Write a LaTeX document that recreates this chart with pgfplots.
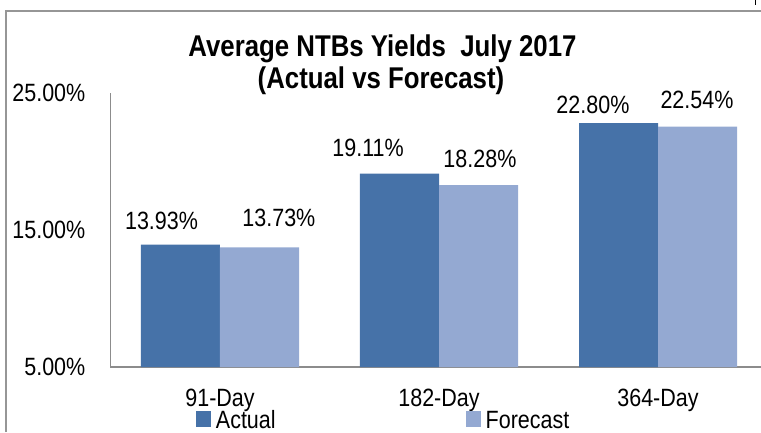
\documentclass[border=0pt]{standalone}
\usepackage{pgfplots}
\pgfplotsset{compat=1.18}
\usepackage{fontspec}
\setmainfont{Liberation Sans}[FakeStretch=0.86]
\definecolor{actualc}{RGB}{70,114,168}
\definecolor{forecastc}{RGB}{148,169,210}
\definecolor{axgray}{RGB}{140,140,140}
\definecolor{framegray}{RGB}{150,150,150}
\begin{document}
\begin{tikzpicture}[x=1pt,y=1pt,font=\fontsize{25}{30}\selectfont]
\useasboundingbox (0,0) rectangle (761,432);
\begin{scope}
\clip (0,0) rectangle (761,432);
\draw[framegray, line width=1.5pt] (6,0) -- (6,421);
\draw[framegray, line width=1.5pt] (5.25,421) -- (761,421);
\fill[black] (754.5,427) rectangle (756,432);
\node[anchor=base, font=\fontsize{30}{32}\selectfont\bfseries] at (382.5,375) {Average NTBs Yields\ \ July 2017};
\node[anchor=base, font=\fontsize{30}{32}\selectfont\bfseries] at (381,343) {(Actual vs Forecast)};
\begin{axis}[
  at={(110.5pt,65pt)}, anchor=south west,
  scale only axis, width=657pt, height=274pt,
  xmin=-0.5, xmax=2.5, ymin=5, ymax=25,
  ybar=0pt, bar width=79pt,
  axis x line*=bottom, axis y line*=left,
  axis line style={-, draw=axgray, line width=1.5pt},
  tick style={draw=none}, major tick length=0pt,
  xtick={0,1,2}, xticklabels={91-Day,182-Day,364-Day},
  ytick={5,15,25}, yticklabels={5.00\%,15.00\%,25.00\%},
  yticklabel style={inner sep=0pt, anchor=east, xshift=-25pt},
  xticklabel style={inner sep=0pt, anchor=north, yshift=-22pt},
  /pgf/number format/assume math mode=true,
  legend columns=2,
  legend style={at={(0.130,-0.230)}, anchor=south west, draw=none, fill=none,
    inner sep=0pt, outer sep=0pt, nodes={inner sep=0pt},
    /tikz/every odd column/.append style={column sep=5pt},
    /tikz/every even column/.append style={column sep=190pt}},
  legend cell align=left,
  clip mode=individual,
]
\addplot[fill=actualc, draw=none, legend image code/.code={\fill[actualc] (0pt,-6.5pt) rectangle (15pt,9.5pt);}]
  coordinates {(0,13.93) (1,19.11) (2,22.80)};
\addplot[fill=forecastc, draw=none, legend image code/.code={\fill[forecastc] (0pt,-6.5pt) rectangle (15pt,9.5pt);}]
  coordinates {(0,13.73) (1,18.28) (2,22.54)};
\legend{Actual,Forecast}
\node[anchor=base] at (axis cs:-0.267,15.07) {13.93\%};
\node[anchor=base] at (axis cs:0.269,15.22) {13.73\%};
\node[anchor=base] at (axis cs:0.676,20.40) {19.11\%};
\node[anchor=base] at (axis cs:1.187,19.53) {18.28\%};
\node[anchor=base] at (axis cs:1.703,23.54) {22.80\%};
\node[anchor=base] at (axis cs:2.178,23.90) {22.54\%};
\end{axis}
\end{scope}
\end{tikzpicture}
\end{document}
